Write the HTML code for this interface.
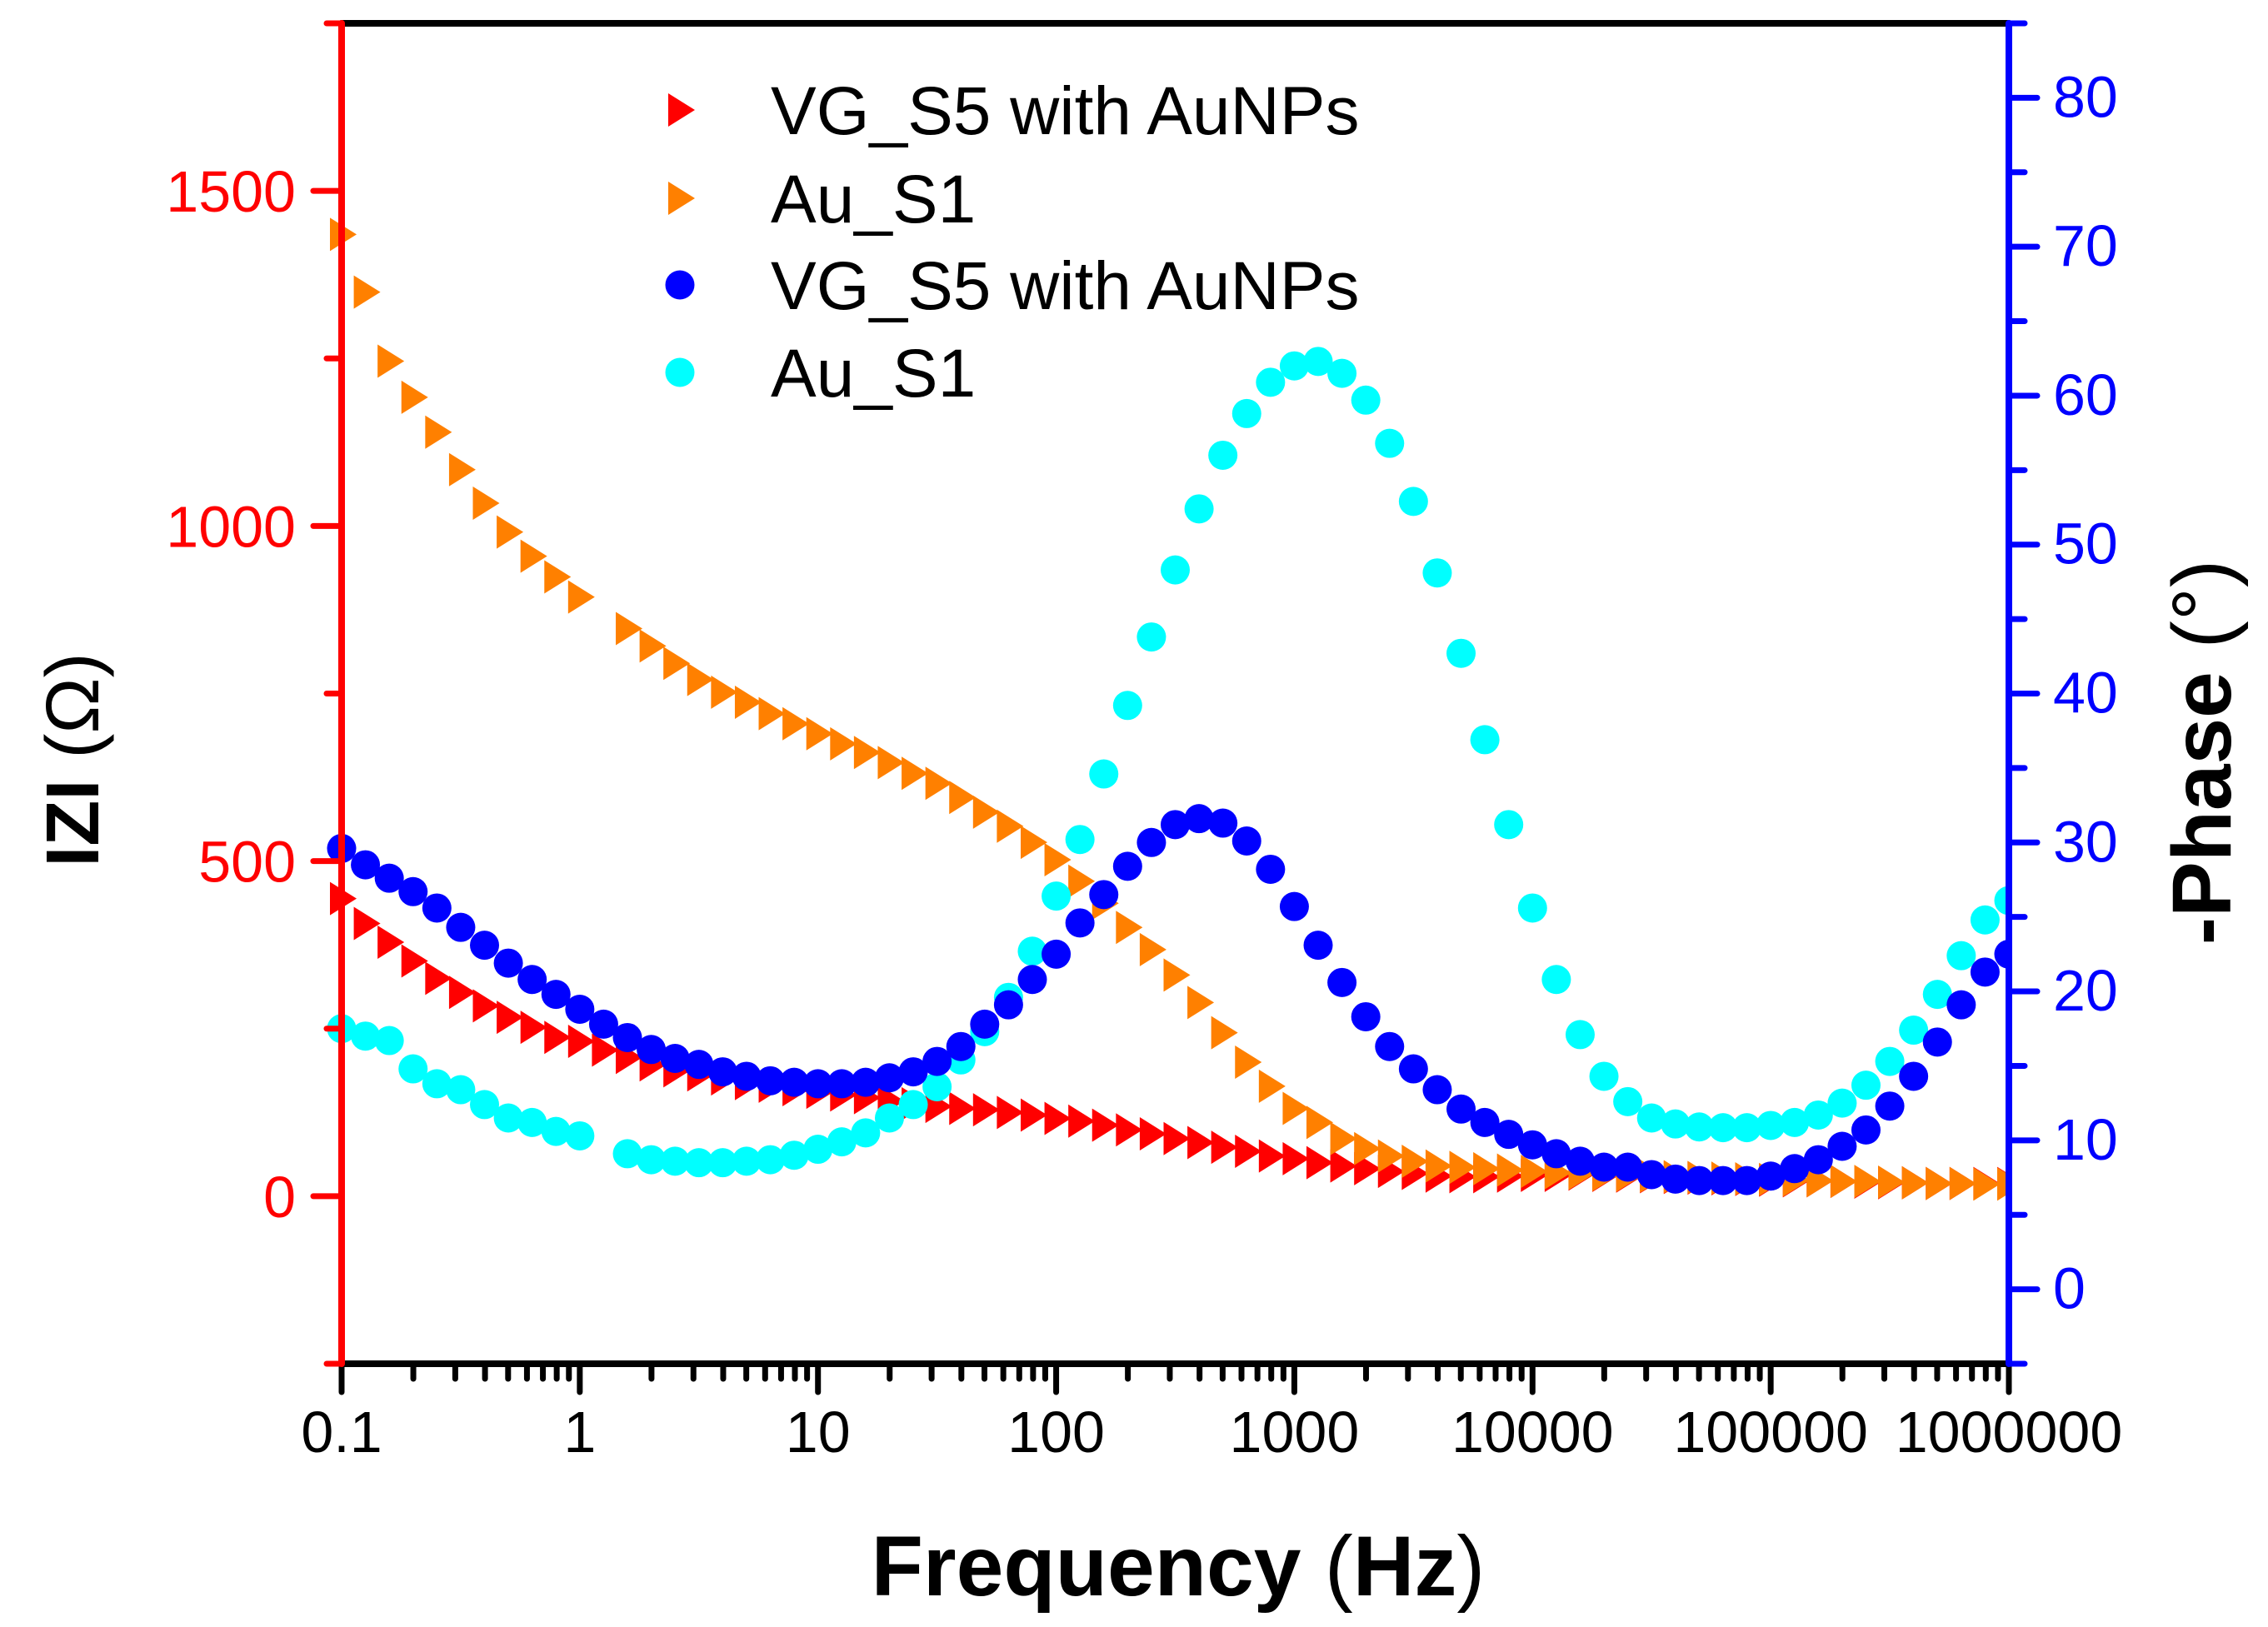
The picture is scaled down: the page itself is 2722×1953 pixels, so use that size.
<!DOCTYPE html>
<html><head><meta charset="utf-8"><style>
html,body{margin:0;padding:0;background:#fff;}
svg{display:block;font-family:"Liberation Sans",Arial,sans-serif;}
</style></head><body>
<svg id="chart" width="2722" height="1953" viewBox="0 0 2722 1953" xmlns="http://www.w3.org/2000/svg">
<g id="marks"></g>
<g id="axes"></g>
<g id="legend"></g>
<text x="1414" y="1915" text-anchor="middle" font-size="102" font-weight="bold">Frequency <tspan font-weight="normal">(</tspan>Hz<tspan font-weight="normal">)</tspan></text>
<text transform="translate(118,912) rotate(-90)" text-anchor="middle" font-size="90" font-weight="bold">IZI <tspan font-weight="normal">(Ω)</tspan></text>
<text transform="translate(2677,903) rotate(-90)" text-anchor="middle" font-size="100" font-weight="bold">-Phase <tspan font-weight="normal">(°)</tspan></text>
</svg>
<script>
const xTickLabels = ["0.1","1","10","100","1000","10000","100000","1000000"];
const zTickValues = [0,500,1000,1500];
const phaseTickValues = [0,10,20,30,40,50,60,70,80];
const legendLabels = ["VG_S5 with AuNPs","Au_S1","VG_S5 with AuNPs","Au_S1"];
const freqExponents = Array.from({length:71},(_,i)=>-1+i/10);
const zVG = [444,407,379,351,325,304,284,267,252,237,231,218,207,196,187,181,175,168,164,159,155,151,147,142,138,134,131,129,125,121,116,112,106,99,93,86,80,73,67,60,56,50,45,41,37,34,30,29,29,30,31,31,33,31,30,29,28,27,26,25,24,23,23,22,21,20,20,19,19,19,19];
const zAu = [1435,1349,1246,1192,1140,1084,1034,991,955,924,894,null,847,821,795,771,752,737,720,705,690,675,662,647,631,616,595,573,552,528,502,470,437,401,368,330,289,244,200,164,131,110,86,71,60,52,45,43,41,39,37,35,34,32,31,30,29,28,27,26,25,24,23,22,22,21,20,19,19,18,18];
const phVG = [29.6,28.5,27.6,26.7,25.6,24.3,23.1,21.9,20.8,19.8,18.8,17.8,16.9,16.1,15.5,15.1,14.6,14.3,14.0,13.9,13.8,13.8,13.9,14.2,14.6,15.3,16.3,17.8,19.1,20.8,22.5,24.6,26.5,28.4,30.0,31.2,31.6,31.3,30.1,28.2,25.7,23.1,20.6,18.3,16.3,14.8,13.4,12.1,11.2,10.4,9.7,9.1,8.6,8.2,8.2,7.7,7.4,7.3,7.3,7.3,7.6,8.1,8.7,9.6,10.7,12.3,14.3,16.6,19.1,21.3,22.5];
const phAu = [17.5,17.0,16.7,14.8,13.8,13.4,12.4,11.5,11.2,10.6,10.3,null,9.1,8.7,8.6,8.5,8.5,8.6,8.7,9.0,9.4,9.9,10.5,11.5,12.4,13.6,15.4,17.3,19.6,22.7,26.4,30.2,34.6,39.2,43.8,48.3,52.4,56.0,58.8,60.9,62.0,62.3,61.5,59.7,56.8,52.9,48.1,42.7,36.9,31.2,25.6,20.8,17.1,14.3,12.6,11.5,11.1,10.9,10.85,10.85,11.0,11.2,11.7,12.5,13.7,15.3,17.4,19.8,22.4,24.8,26.1];

const NS="http://www.w3.org/2000/svg";
const L=410,R=2411,T=28,B=1637;
const xs = e => L + (e+1)/7*(R-L);
const yZ = v => B - (v+250)/2000*(B-T);
const yP = v => B - (v+5)/90*(B-T);
function mk(tag, attrs, parent){const el=document.createElementNS(NS,tag);for(const k in attrs)el.setAttribute(k,attrs[k]);parent.appendChild(el);return el;}
const marks=document.getElementById('marks'), axes=document.getElementById('axes'), legend=document.getElementById('legend');

function tri(cx,cy,color,parent){
  return mk('polygon',{points:`${cx-14},${cy-20} ${cx+18},${cy} ${cx-14},${cy+20}`,fill:color},parent);
}
function drawTri(vals,color,name){
  const g=mk('g',{},marks);
  
  
  vals.forEach((v,i)=>{ if(v===null)return;
    const p=tri(xs(freqExponents[i]),yZ(v),color,g);
    
    
  });
}
function drawCirc(vals,color,name){
  const g=mk('g',{},marks);
  
  
  vals.forEach((v,i)=>{ if(v===null)return;
    const c=mk('circle',{cx:xs(freqExponents[i]),cy:yP(v),r:17.5,fill:color},g);
    
    
  });
}
drawTri(zVG,'#ff0000','impedance-vg-s5-series');
drawTri(zAu,'#ff8000','impedance-au-s1-series');
drawCirc(phAu,'#00ffff','phase-au-s1-series');
drawCirc(phVG,'#0000ff','phase-vg-s5-series');

const cover=mk('rect',{x:R,y:0,width:2722-R,height:B,fill:'#fff'},marks);



const axTopLine=mk('line',{x1:L,y1:T,x2:R,y2:T,stroke:'#000','stroke-width':8,'stroke-linecap':'round'},axes);


const axBotLine=mk('line',{x1:L,y1:B,x2:R,y2:B,stroke:'#000','stroke-width':8,'stroke-linecap':'round'},axes);


for(let d=-1; d<=6; d++){
  for(let m=1;m<=9;m++){
    if(d===6 && m>1) break;
    const x=xs(d+Math.log10(m));
    const len = m===1?34:18;
    const t=mk('line',{x1:x,y1:B,x2:x,y2:B+len,stroke:'#000','stroke-width':7,'stroke-linecap':'round'},axes);
    
    
  }
}
xTickLabels.forEach((lab,k)=>{
  const t=mk('text',{x:xs(k-1),y:1743,'text-anchor':'middle','font-size':70,fill:'#000'},axes);
  t.textContent=lab;
  
  
});
const la=mk('line',{x1:L,y1:T,x2:L,y2:B,stroke:'#ff0000','stroke-width':8,'stroke-linecap':'round'},axes);


for(let v=-250; v<=1750; v+=250){
  const major = v%500===0;
  const y=yZ(v);
  const t=mk('line',{x1:L,y1:y,x2:L-(major?34:18),y2:y,stroke:'#ff0000','stroke-width':7,'stroke-linecap':'round'},axes);
  
  
}
zTickValues.forEach(v=>{
  const t=mk('text',{x:355,y:yZ(v)+25,'text-anchor':'end','font-size':70,fill:'#ff0000'},axes);
  t.textContent=String(v);
  
  
});
const ra=mk('line',{x1:R,y1:T,x2:R,y2:B,stroke:'#0000ff','stroke-width':8,'stroke-linecap':'round'},axes);


for(let v=-5; v<=85; v+=5){
  const major = v%10===0;
  const y=yP(v);
  const t=mk('line',{x1:R,y1:y,x2:R+(major?34:19),y2:y,stroke:'#0000ff','stroke-width':7,'stroke-linecap':'round'},axes);
  
  
}
phaseTickValues.forEach(v=>{
  const t=mk('text',{x:2464,y:yP(v)+23,'text-anchor':'start','font-size':70,fill:'#0000ff'},axes);
  t.textContent=String(v);
  
  
});
const legendY=[132,238,342,447];
const legendColors=['#ff0000','#ff8000','#0000ff','#00ffff'];
legendLabels.forEach((lab,k)=>{
  const g=mk('g',{},legend);
  
  
  let s;
  if(k<2){ s=tri(816,legendY[k],legendColors[k],g); }
  else { s=mk('circle',{cx:816,cy:legendY[k],r:17.5,fill:legendColors[k]},g); }
  
  
  const t=mk('text',{x:925,y:legendY[k]+29,'font-size':82,fill:'#000'},g);
  t.textContent=lab;
  
  
});
</script>
</body></html>
